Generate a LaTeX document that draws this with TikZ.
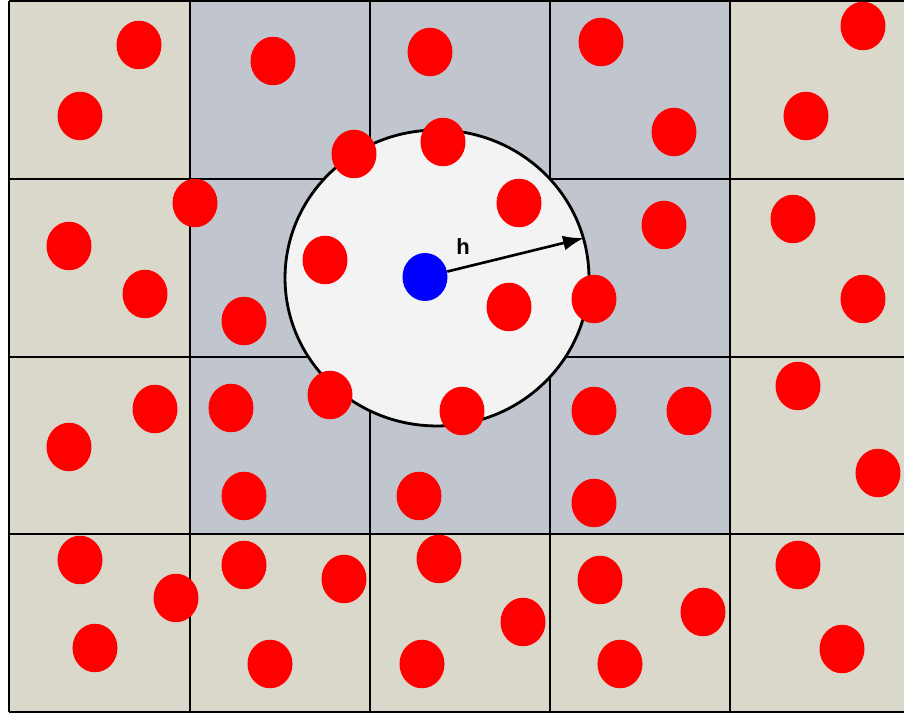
\documentclass[tikz,border=0pt]{standalone}
\usepackage{fontspec}
\setsansfont{Liberation Sans}
\usetikzlibrary{shapes.geometric,arrows.meta}
\definecolor{beige}{RGB}{217,216,203}
\definecolor{slate}{RGB}{193,198,206}
\definecolor{disc}{RGB}{243,243,243}
\tikzset{
  cellbox/.style={fill=beige},
  hotcell/.style={fill=slate},
  gridline/.style={draw=black, line width=1.2pt},
  reddot/.style={ellipse, fill=red, draw=none, inner sep=0pt, minimum width=0.9cm, minimum height=0.97cm},
  bluedot/.style={ellipse, fill=blue, draw=none, inner sep=0pt, minimum width=0.9cm, minimum height=0.96cm},
  rangedisc/.style={ellipse, fill=disc, draw=black, line width=1.6pt, inner sep=0pt, minimum width=6.08cm, minimum height=5.92cm},
  smootharrow/.style={draw=black, line width=1.5pt, -{Latex[length=0.42cm, width=0.3cm]}},
  hlabel/.style={font=\sffamily\bfseries\fontsize{12.5}{14}\selectfont, inner sep=0pt}
}
\begin{document}
\begin{tikzpicture}[x=0.02cm, y=-0.02cm]
\clip (0,0) rectangle (904,715);
\fill[white] (0,0) rectangle (904,715);
% cells
\foreach \cx/\nx [count=\ci] in {9/190,190/370,370/550,550/730,730/910}{
  \foreach \cy/\ny [count=\ri] in {1/179,179/357,357/534,534/712}{
    \pgfmathtruncatemacro{\hot}{(\ci>1)&&(\ci<5)&&(\ri<4) ? 1 : 0}
    \ifnum\hot=1
      \fill[hotcell] (\cx,\cy) rectangle (\nx,\ny);
    \else
      \fill[cellbox] (\cx,\cy) rectangle (\nx,\ny);
    \fi
  }
}
% grid lines
\foreach \gx in {9,190,370,550,730,910}{\draw[gridline] (\gx,1) -- (\gx,712);}
\foreach \gy in {1,179,357,534,712}{\draw[gridline] (9,\gy) -- (910,\gy);}
% range circle
\node[rangedisc] (c) at (437,278) {};
% red particles
\foreach \px/\py [count=\i] in {
 139/45, 80/116, 273/61, 430/52, 601/42, 674/132, 863/26, 806/116,
 354/154, 443/142,
 195/203, 69/246, 145/294, 244/321, 325/260, 519/203, 509/307, 594/299, 664/225, 793/219, 863/299,
 155/409, 69/447, 231/408, 330/395, 462/411, 594/411, 689/411, 798/386, 878/473, 244/496, 419/496, 594/503,
 80/560, 176/598, 95/648, 244/565, 344/579, 439/559, 523/622, 422/664, 270/664, 600/580, 703/612, 620/664, 798/565, 842/649}{
  \node[reddot] (r\i) at (\px,\py) {};
}
% blue particle and smoothing length
\node[bluedot] (b) at (425,277) {};
\coordinate (tip) at (584,238);
\draw[smootharrow] (b) -- (tip);
\node[hlabel] (h) at (463,247) {h};
\end{tikzpicture}
\end{document}
